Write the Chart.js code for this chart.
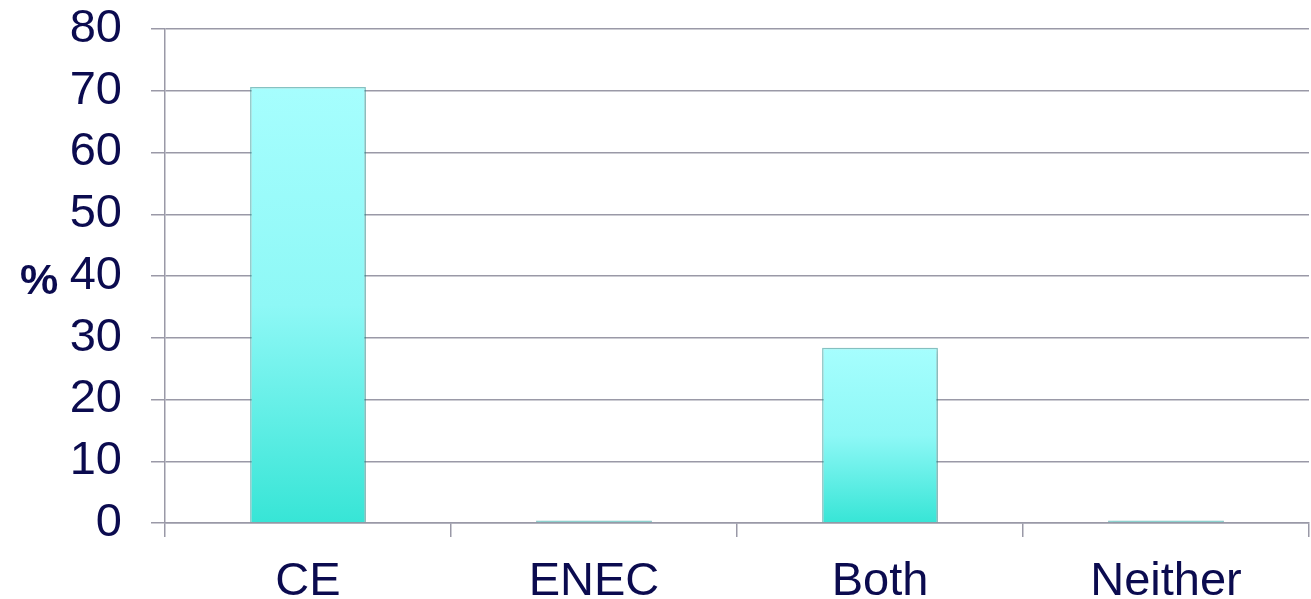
<!DOCTYPE html>
<html>
<head>
<meta charset="utf-8">
<script src="https://cdn.jsdelivr.net/npm/chart.js@4"></script>
<style>
  html, body { margin: 0; padding: 0; background: #fff; }
  #wrap { width: 1311px; height: 599px; }
</style>
</head>
<body>
<div id="wrap"><canvas id="barChart"></canvas></div>
<script>
const categories = ['CE', 'ENEC', 'Both', 'Neither'];
const percentages = [70.6, 0.4, 28.4, 0.4];
const yTicks = [0, 10, 20, 30, 40, 50, 60, 70, 80];
const yTitle = '%';

const textColor = '#0b0b4f';
const gridColor = '#9a99a7';
const font = { family: 'Arial, "Liberation Sans", sans-serif', size: 47 };

function barGradient(ctx) {
    const chart = ctx.chart;
    if (!chart.chartArea || ctx.dataIndex === undefined) return '#6ff0ea';
    const y = chart.scales.y;
    const top = y.getPixelForValue(percentages[ctx.dataIndex]);
    const bottom = y.getPixelForValue(0);
    if (bottom - top < 4) return '#5cc9c2';
    const g = chart.ctx.createLinearGradient(0, top, 0, bottom);
    g.addColorStop(0, '#a6fefe');
    g.addColorStop(0.5, '#8ef8f6');
    g.addColorStop(1, '#37e5d6');
    return g;
}

// "%" sits horizontally left of the axis, so it is drawn here instead of as a rotated title
const percentLabel = {
    id: 'percentLabel',
    afterDraw(chart) {
        const c = chart.ctx;
        const y = chart.scales.y;
        c.save();
        c.font = 'bold 43px Arial, "Liberation Sans", sans-serif';
        c.fillStyle = textColor;
        c.textAlign = 'center';
        c.textBaseline = 'middle';
        c.fillText(yTitle, 39, y.getPixelForValue(40) + 6);
        c.restore();
    }
};

const barShadow = {
    id: 'barShadow',
    beforeDatasetDraw(chart) {
        chart.ctx.save();
        chart.ctx.shadowColor = 'rgba(0,0,0,0.18)';
        chart.ctx.shadowBlur = 5;
        chart.ctx.shadowOffsetX = 2;
        chart.ctx.shadowOffsetY = 2;
    },
    afterDatasetDraw(chart) {
        chart.ctx.restore();
    }
};

new Chart(document.getElementById('barChart'), {
    type: 'bar',
    data: {
        labels: categories,
        datasets: [{
            data: percentages,
            backgroundColor: barGradient,
            borderColor: 'rgba(38,150,150,0.55)',
            borderWidth: 1.5,
            categoryPercentage: 0.81,
            barPercentage: 0.5
        }]
    },
    plugins: [barShadow, percentLabel],
    options: {
        responsive: true,
        maintainAspectRatio: false,
        animation: false,
        layout: { padding: { top: 29, right: 2, left: 0, bottom: 0 } },
        plugins: {
            legend: { display: false },
            tooltip: { enabled: false }
        },
        scales: {
            x: {
                afterFit: s => { s.height = 76; s.paddingLeft = 0; s.paddingRight = 0; },
                grid: {
                    offset: true,
                    drawOnChartArea: false,
                    color: gridColor,
                    lineWidth: 1.5,
                    tickLength: 14
                },
                border: { color: gridColor, width: 1.5 },
                ticks: { color: textColor, font: font, padding: 17, autoSkip: false, maxRotation: 0 }
            },
            y: {
                min: 0,
                max: 80,
                afterFit: s => { s.width = 165; s.paddingTop = 0; s.paddingBottom = 0; },
                afterBuildTicks: s => { s.ticks = yTicks.map(v => ({ value: v })); },
                grid: { color: gridColor, lineWidth: 1.5, tickLength: 14 },
                border: { color: gridColor, width: 1.5 },
                ticks: { color: textColor, font: font, padding: 29, autoSkip: false }
            }
        }
    }
});
</script>
</body>
</html>
